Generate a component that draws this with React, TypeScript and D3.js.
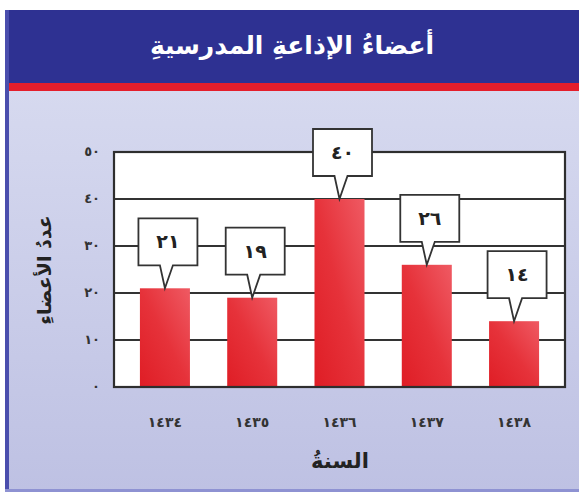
import React from "react";
import * as d3 from "d3";

// School radio members per Hijri year
const years = [1434, 1435, 1436, 1437, 1438];
const members = [21, 19, 40, 26, 14];
const yTicks = [0, 10, 20, 30, 40, 50];

const titleText = "أعضاءُ الإذاعةِ المدرسيةِ";
const yTitle = "عددُ الأعضاءِ";
const xTitle = "السنةُ";

const W = 579;
const H = 495;
const plot = { left: 114, right: 565, top: 152, bottom: 387 };

const arabicDigits = "٠١٢٣٤٥٦٧٨٩";
const toArabic = (n: number) =>
  String(n).replace(/\d/g, (d) => arabicDigits[Number(d)]);

const FONT = "'DejaVu Sans', sans-serif";

export default function App() {
  const x = d3
    .scaleBand<number>()
    .domain(years)
    .range([plot.left, plot.right])
    .paddingInner(0.427)
    .paddingOuter(0.297);
  const y = d3.scaleLinear().domain([0, 50]).range([plot.bottom, plot.top]);

  const boxW = 59;
  const boxH = 47;
  const pointerLen = 23;

  const callout = (cx: number, tipY: number) => {
    const bx = cx + 3 - boxW / 2;
    const by = tipY - pointerLen - boxH;
    const bb = by + boxH;
    const p = d3.path();
    p.moveTo(bx, by);
    p.lineTo(bx + boxW, by);
    p.lineTo(bx + boxW, bb);
    p.lineTo(cx + 8, bb);
    p.lineTo(cx, tipY);
    p.lineTo(cx - 5, bb);
    p.lineTo(bx, bb);
    p.closePath();
    return { d: p.toString(), tx: bx + boxW / 2, ty: by + boxH / 2 };
  };

  return (
    <svg
      width={W}
      height={H}
      style={{ position: "absolute", left: 0, top: 0, background: "#ffffff" }}
    >
      <defs>
        <linearGradient id="panelFill" x1="0" y1="0" x2="0" y2="1">
          <stop offset="0" stopColor="#d6d9ef" />
          <stop offset="1" stopColor="#bec1e3" />
        </linearGradient>
        <linearGradient id="barFill" x1="0" y1="1" x2="1" y2="0">
          <stop offset="0" stopColor="#df1d25" />
          <stop offset="0.5" stopColor="#e6323a" />
          <stop offset="1" stopColor="#ef5a63" />
        </linearGradient>
      </defs>

      {/* header band */}
      <rect x={5} y={10} width={W - 5} height={74} fill="#2e3192" />
      <rect x={5} y={83} width={W - 5} height={8} fill="#e41e2b" />
      {/* lavender panel */}
      <rect x={5} y={91} width={W - 5} height={400} fill="url(#panelFill)" />
      <rect x={5} y={10} width={4} height={482} fill="#4a4ead" />
      <rect x={5} y={489} width={W - 5} height={3} fill="#8e92d2" />

      <text
        x={292}
        y={47}
        fill="#ffffff"
        fontFamily={FONT}
        fontWeight="bold"
        fontSize={25}
        textAnchor="middle"
        dominantBaseline="middle"
        direction="rtl"
      >
        {titleText}
      </text>

      {/* plot area */}
      <rect
        x={plot.left}
        y={plot.top}
        width={plot.right - plot.left}
        height={plot.bottom - plot.top}
        fill="#ffffff"
      />
      {yTicks.map((t) => (
        <line
          key={`g${t}`}
          x1={plot.left}
          x2={plot.right}
          y1={y(t)}
          y2={y(t)}
          stroke="#333333"
          strokeWidth={2}
        />
      ))}

      {years.map((yr, i) => (
        <rect
          key={`b${yr}`}
          x={x(yr)}
          y={y(members[i])}
          width={x.bandwidth()}
          height={y(0) - y(members[i])}
          fill="url(#barFill)"
        />
      ))}

      <rect
        x={plot.left}
        y={plot.top}
        width={plot.right - plot.left}
        height={plot.bottom - plot.top}
        fill="none"
        stroke="#2e2e2e"
        strokeWidth={2.2}
      />

      {years.map((yr, i) => {
        const cx = (x(yr) as number) + x.bandwidth() / 2;
        const c = callout(cx, y(members[i]));
        return (
          <g key={`c${yr}`}>
            <path d={c.d} fill="#ffffff" stroke="#333333" strokeWidth={1.8} />
            <text
              x={c.tx}
              y={c.ty + 1}
              fontFamily={FONT}
              fontWeight="bold"
              fontSize={19}
              fill="#222222"
              textAnchor="middle"
              dominantBaseline="middle"
            >
              {toArabic(members[i])}
            </text>
          </g>
        );
      })}

      {yTicks.map((t) => (
        <text
          key={`yt${t}`}
          x={100}
          y={y(t)}
          fontFamily={FONT}
          fontWeight="bold"
          fontSize={13}
          fill="#333333"
          textAnchor="end"
          dominantBaseline="middle"
        >
          {toArabic(t)}
        </text>
      ))}

      {years.map((yr) => (
        <text
          key={`xt${yr}`}
          x={(x(yr) as number) + x.bandwidth() / 2}
          y={423}
          fontFamily={FONT}
          fontWeight="bold"
          fontSize={14}
          fill="#333333"
          textAnchor="middle"
          dominantBaseline="middle"
        >
          {toArabic(yr)}
        </text>
      ))}

      <text
        transform="translate(45,270) rotate(-90)"
        fontFamily={FONT}
        fontWeight="bold"
        fontSize={19}
        fill="#222222"
        textAnchor="middle"
        dominantBaseline="middle"
        direction="rtl"
      >
        {yTitle}
      </text>

      <text
        x={340}
        y={462}
        fontFamily={FONT}
        fontWeight="bold"
        fontSize={21}
        fill="#222222"
        textAnchor="middle"
        dominantBaseline="middle"
        direction="rtl"
      >
        {xTitle}
      </text>
    </svg>
  );
}
